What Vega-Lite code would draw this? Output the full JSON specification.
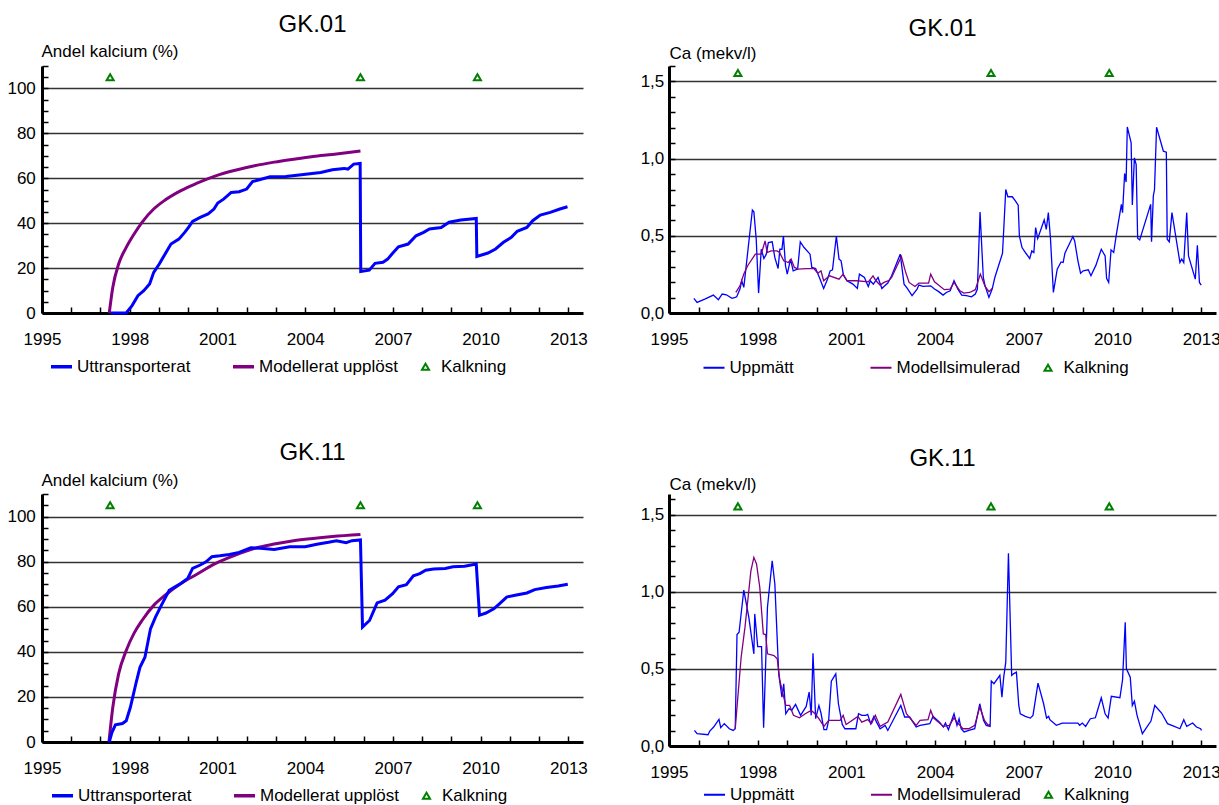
{
  "$schema": "https://vega.github.io/schema/vega-lite/v6.json",
  "background": "white",
  "padding": {"left": 6, "top": 12, "right": 0, "bottom": 0},
  "columns": 2,
  "bounds": "flush",
  "spacing": {"row": 181, "column": 86},
  "resolve": {"scale": {"color": "independent"}, "legend": {"color": "independent"}},
  "config": {
    "view": {"stroke": null},
    "font": "Liberation Sans",
    "title": {"fontSize": 24, "fontWeight": "normal", "color": "#000", "frame": "group", "anchor": "middle", "font": "Liberation Sans"},
    "axis": {"domainColor": "#000", "domainWidth": 3, "tickColor": "#000", "tickWidth": 1.5, "tickSize": -6, "tickCount": 200, "labelFont": "Liberation Sans", "labelFontSize": 17, "labelColor": "#000", "titleFont": "Liberation Sans", "titleFontSize": 17, "titleFontWeight": "normal", "titleColor": "#000", "gridColor": "#333", "gridWidth": 1.5},
    "legend": {"orient": "none", "direction": "horizontal", "columns": 3, "gridAlign": "all", "padding": 0, "labelFont": "Liberation Sans", "labelFontSize": 17, "labelColor": "#000", "labelOffset": 7, "columnPadding": 13, "symbolSize": 441, "symbolType": "stroke", "labelLimit": 400, "title": null}
  },
  "datasets": {
    "kalk": [{"year": 1997.33}, {"year": 2005.89}, {"year": 2009.89}],
    "gk01_utt": [
      {"year":1997.35,"v":0},{"year":1997.88,"v":0},{"year":1998.08,"v":3.3},{"year":1998.28,"v":7.7},{"year":1998.48,"v":9.9},{"year":1998.68,"v":12.9},{"year":1998.82,"v":18.1},{"year":1999.01,"v":21.8},{"year":1999.21,"v":26.3},{"year":1999.41,"v":30.7},{"year":1999.68,"v":32.9},{"year":1999.88,"v":35.9},{"year":2000.01,"v":38.1},{"year":2000.15,"v":40.8},{"year":2000.41,"v":42.6},{"year":2000.68,"v":44.1},{"year":2000.88,"v":46.3},{"year":2001.01,"v":49.0},{"year":2001.21,"v":50.7},{"year":2001.47,"v":53.7},{"year":2001.74,"v":54.0},{"year":2002.0,"v":55.2},{"year":2002.2,"v":58.5},{"year":2002.4,"v":59.2},{"year":2002.8,"v":60.7},{"year":2003.34,"v":60.8},{"year":2003.87,"v":61.6},{"year":2004.53,"v":62.6},{"year":2004.93,"v":63.8},{"year":2005.33,"v":64.4},{"year":2005.46,"v":64.1},{"year":2005.66,"v":66.3},{"year":2005.88,"v":66.6},{"year":2005.9,"v":18.5},{"year":2006.19,"v":19.1},{"year":2006.39,"v":22.1},{"year":2006.66,"v":22.6},{"year":2006.82,"v":24.0},{"year":2006.99,"v":26.6},{"year":2007.19,"v":29.5},{"year":2007.52,"v":30.7},{"year":2007.79,"v":34.4},{"year":2008.05,"v":35.9},{"year":2008.25,"v":37.4},{"year":2008.65,"v":38.1},{"year":2008.92,"v":40.4},{"year":2009.32,"v":41.4},{"year":2009.85,"v":42.1},{"year":2009.87,"v":25.2},{"year":2010.25,"v":26.7},{"year":2010.51,"v":28.5},{"year":2010.78,"v":31.5},{"year":2011.05,"v":33.7},{"year":2011.25,"v":36.4},{"year":2011.58,"v":38.1},{"year":2011.78,"v":41.1},{"year":2012.04,"v":43.6},{"year":2012.38,"v":44.8},{"year":2012.71,"v":46.3},{"year":2012.97,"v":47.3}
    ],
    "gk01_mod": [
      {"year":1997.3,"v":0},{"year":1997.42,"v":11.4},{"year":1997.62,"v":21.8},{"year":1997.88,"v":29.2},{"year":1998.15,"v":35.2},{"year":1998.42,"v":40.4},{"year":1998.82,"v":46.3},{"year":1999.21,"v":50.3},{"year":1999.75,"v":54.5},{"year":2000.28,"v":57.7},{"year":2000.94,"v":61.1},{"year":2001.61,"v":63.6},{"year":2002.27,"v":65.6},{"year":2002.94,"v":67.2},{"year":2003.6,"v":68.5},{"year":2004.27,"v":69.7},{"year":2004.93,"v":70.6},{"year":2005.89,"v":72.1}
    ],
    "gk11_utt": [
      {"year":1997.3,"v":0},{"year":1997.39,"v":4.2},{"year":1997.51,"v":7.6},{"year":1997.75,"v":8.2},{"year":1997.88,"v":9.4},{"year":1998.02,"v":15.3},{"year":1998.22,"v":26.4},{"year":1998.35,"v":33.1},{"year":1998.52,"v":37.6},{"year":1998.71,"v":50.2},{"year":1998.88,"v":55.4},{"year":1999.08,"v":60.6},{"year":1999.35,"v":67.3},{"year":1999.55,"v":68.8},{"year":1999.75,"v":70.3},{"year":1999.98,"v":72.5},{"year":2000.15,"v":77.0},{"year":2000.41,"v":78.5},{"year":2000.61,"v":79.9},{"year":2000.81,"v":82.2},{"year":2001.08,"v":82.6},{"year":2001.41,"v":83.2},{"year":2001.74,"v":84.1},{"year":2002.14,"v":86.2},{"year":2002.47,"v":85.9},{"year":2002.94,"v":85.4},{"year":2003.47,"v":86.6},{"year":2004.0,"v":86.6},{"year":2004.4,"v":87.7},{"year":2004.8,"v":88.6},{"year":2005.07,"v":89.3},{"year":2005.4,"v":88.4},{"year":2005.6,"v":89.3},{"year":2005.89,"v":89.6},{"year":2005.96,"v":51.0},{"year":2006.2,"v":53.9},{"year":2006.46,"v":61.7},{"year":2006.73,"v":62.9},{"year":2006.99,"v":65.8},{"year":2007.19,"v":68.8},{"year":2007.46,"v":69.8},{"year":2007.7,"v":73.7},{"year":2007.92,"v":74.7},{"year":2008.12,"v":76.2},{"year":2008.39,"v":76.7},{"year":2008.79,"v":77.0},{"year":2009.05,"v":77.7},{"year":2009.45,"v":78.0},{"year":2009.85,"v":78.9},{"year":2009.96,"v":56.2},{"year":2010.18,"v":57.2},{"year":2010.45,"v":59.1},{"year":2010.65,"v":61.4},{"year":2010.89,"v":64.3},{"year":2011.18,"v":65.1},{"year":2011.58,"v":66.1},{"year":2011.85,"v":67.6},{"year":2012.25,"v":68.5},{"year":2012.65,"v":69.2},{"year":2012.98,"v":70.0}
    ],
    "gk11_mod": [
      {"year":1997.29,"v":0},{"year":1997.42,"v":15.3},{"year":1997.62,"v":30.2},{"year":1997.88,"v":40.6},{"year":1998.15,"v":48.3},{"year":1998.42,"v":53.9},{"year":1998.82,"v":60.6},{"year":1999.21,"v":65.1},{"year":1999.75,"v":70.3},{"year":2000.28,"v":74.3},{"year":2000.94,"v":79.2},{"year":2001.61,"v":82.9},{"year":2002.27,"v":85.9},{"year":2002.94,"v":87.8},{"year":2003.6,"v":89.3},{"year":2004.27,"v":90.3},{"year":2004.93,"v":91.1},{"year":2005.89,"v":92.0}
    ],
    "gk01_upp": [
      {"year":1995.84,"v":0.095},{"year":1995.95,"v":0.069},{"year":1996.21,"v":0.09},{"year":1996.5,"v":0.116},{"year":1996.67,"v":0.086},{"year":1996.8,"v":0.123},{"year":1996.94,"v":0.118},{"year":1997.13,"v":0.095},{"year":1997.24,"v":0.101},{"year":1997.29,"v":0.105},{"year":1997.4,"v":0.155},{"year":1997.46,"v":0.209},{"year":1997.53,"v":0.166},{"year":1997.82,"v":0.667},{"year":1997.87,"v":0.656},{"year":1997.95,"v":0.478},{"year":1998.03,"v":0.129},{"year":1998.12,"v":0.413},{"year":1998.21,"v":0.353},{"year":1998.29,"v":0.381},{"year":1998.36,"v":0.456},{"year":1998.49,"v":0.461},{"year":1998.58,"v":0.359},{"year":1998.69,"v":0.288},{"year":1998.75,"v":0.413},{"year":1998.82,"v":0.413},{"year":1998.87,"v":0.499},{"year":1998.94,"v":0.306},{"year":1999.0,"v":0.252},{"year":1999.11,"v":0.349},{"year":1999.2,"v":0.273},{"year":1999.35,"v":0.284},{"year":1999.44,"v":0.461},{"year":1999.57,"v":0.424},{"year":1999.77,"v":0.381},{"year":1999.83,"v":0.295},{"year":1999.96,"v":0.288},{"year":2000.1,"v":0.224},{"year":2000.23,"v":0.159},{"year":2000.36,"v":0.219},{"year":2000.45,"v":0.273},{"year":2000.53,"v":0.28},{"year":2000.66,"v":0.499},{"year":2000.75,"v":0.349},{"year":2000.82,"v":0.338},{"year":2000.9,"v":0.245},{"year":2001.02,"v":0.209},{"year":2001.22,"v":0.187},{"year":2001.37,"v":0.159},{"year":2001.44,"v":0.252},{"year":2001.61,"v":0.23},{"year":2001.68,"v":0.198},{"year":2001.74,"v":0.172},{"year":2001.81,"v":0.209},{"year":2001.91,"v":0.187},{"year":2002.07,"v":0.23},{"year":2002.2,"v":0.159},{"year":2002.27,"v":0.172},{"year":2002.4,"v":0.194},{"year":2002.53,"v":0.241},{"year":2002.82,"v":0.381},{"year":2002.95,"v":0.187},{"year":2003.06,"v":0.159},{"year":2003.22,"v":0.112},{"year":2003.39,"v":0.155},{"year":2003.45,"v":0.181},{"year":2003.59,"v":0.172},{"year":2003.85,"v":0.176},{"year":2003.98,"v":0.155},{"year":2004.11,"v":0.14},{"year":2004.27,"v":0.116},{"year":2004.38,"v":0.133},{"year":2004.51,"v":0.144},{"year":2004.64,"v":0.209},{"year":2004.77,"v":0.155},{"year":2004.9,"v":0.116},{"year":2005.06,"v":0.112},{"year":2005.23,"v":0.105},{"year":2005.36,"v":0.123},{"year":2005.43,"v":0.155},{"year":2005.52,"v":0.654},{"year":2005.63,"v":0.23},{"year":2005.69,"v":0.176},{"year":2005.82,"v":0.101},{"year":2005.93,"v":0.155},{"year":2006.02,"v":0.23},{"year":2006.28,"v":0.387},{"year":2006.39,"v":0.8},{"year":2006.46,"v":0.753},{"year":2006.61,"v":0.753},{"year":2006.72,"v":0.725},{"year":2006.81,"v":0.699},{"year":2006.85,"v":0.499},{"year":2006.94,"v":0.424},{"year":2007.07,"v":0.387},{"year":2007.2,"v":0.353},{"year":2007.27,"v":0.402},{"year":2007.34,"v":0.392},{"year":2007.4,"v":0.553},{"year":2007.47,"v":0.482},{"year":2007.58,"v":0.542},{"year":2007.69,"v":0.603},{"year":2007.76,"v":0.542},{"year":2007.83,"v":0.65},{"year":2007.9,"v":0.488},{"year":2008.0,"v":0.133},{"year":2008.13,"v":0.284},{"year":2008.26,"v":0.331},{"year":2008.33,"v":0.327},{"year":2008.39,"v":0.387},{"year":2008.66,"v":0.495},{"year":2008.72,"v":0.467},{"year":2008.83,"v":0.338},{"year":2008.92,"v":0.258},{"year":2009.01,"v":0.273},{"year":2009.18,"v":0.28},{"year":2009.27,"v":0.241},{"year":2009.44,"v":0.31},{"year":2009.62,"v":0.413},{"year":2009.75,"v":0.37},{"year":2009.8,"v":0.224},{"year":2009.87,"v":0.198},{"year":2009.95,"v":0.409},{"year":2010.04,"v":0.392},{"year":2010.14,"v":0.521},{"year":2010.3,"v":0.704},{"year":2010.34,"v":0.65},{"year":2010.41,"v":0.904},{"year":2010.46,"v":0.848},{"year":2010.5,"v":1.205},{"year":2010.63,"v":1.102},{"year":2010.67,"v":0.699},{"year":2010.74,"v":1.005},{"year":2010.8,"v":0.962},{"year":2010.85,"v":0.484},{"year":2010.92,"v":0.473},{"year":2011.29,"v":0.704},{"year":2011.32,"v":0.461},{"year":2011.38,"v":0.757},{"year":2011.42,"v":0.8},{"year":2011.49,"v":1.203},{"year":2011.72,"v":1.048},{"year":2011.82,"v":1.042},{"year":2011.85,"v":0.478},{"year":2011.92,"v":0.461},{"year":2012.01,"v":0.65},{"year":2012.28,"v":0.327},{"year":2012.34,"v":0.349},{"year":2012.41,"v":0.327},{"year":2012.51,"v":0.65},{"year":2012.57,"v":0.37},{"year":2012.8,"v":0.219},{"year":2012.87,"v":0.439},{"year":2012.94,"v":0.198},{"year":2013.0,"v":0.181}
    ],
    "gk01_sim": [
      {"year":1997.26,"v":0.133},{"year":1997.4,"v":0.176},{"year":1997.53,"v":0.252},{"year":1997.66,"v":0.306},{"year":1997.92,"v":0.381},{"year":1998.12,"v":0.381},{"year":1998.25,"v":0.467},{"year":1998.32,"v":0.392},{"year":1998.45,"v":0.402},{"year":1998.65,"v":0.402},{"year":1998.74,"v":0.392},{"year":1998.88,"v":0.338},{"year":1999.04,"v":0.327},{"year":1999.13,"v":0.349},{"year":1999.24,"v":0.295},{"year":1999.37,"v":0.284},{"year":1999.64,"v":0.288},{"year":1999.9,"v":0.288},{"year":2000.03,"v":0.258},{"year":2000.14,"v":0.273},{"year":2000.23,"v":0.209},{"year":2000.43,"v":0.241},{"year":2000.75,"v":0.219},{"year":2000.89,"v":0.252},{"year":2001.02,"v":0.209},{"year":2001.35,"v":0.209},{"year":2001.74,"v":0.202},{"year":2001.9,"v":0.241},{"year":2002.0,"v":0.209},{"year":2002.14,"v":0.181},{"year":2002.27,"v":0.198},{"year":2002.43,"v":0.209},{"year":2002.53,"v":0.23},{"year":2002.86,"v":0.366},{"year":2002.99,"v":0.273},{"year":2003.12,"v":0.198},{"year":2003.32,"v":0.172},{"year":2003.45,"v":0.194},{"year":2003.78,"v":0.194},{"year":2003.85,"v":0.252},{"year":2003.98,"v":0.202},{"year":2004.31,"v":0.151},{"year":2004.51,"v":0.155},{"year":2004.64,"v":0.198},{"year":2004.84,"v":0.144},{"year":2004.97,"v":0.129},{"year":2005.17,"v":0.133},{"year":2005.36,"v":0.151},{"year":2005.53,"v":0.252},{"year":2005.69,"v":0.172},{"year":2005.82,"v":0.138},{"year":2005.93,"v":0.159}
    ],
    "gk11_upp": [
      {"year":1995.86,"v":0.101},{"year":1995.95,"v":0.08},{"year":1996.32,"v":0.073},{"year":1996.38,"v":0.097},{"year":1996.51,"v":0.123},{"year":1996.69,"v":0.173},{"year":1996.75,"v":0.119},{"year":1996.87,"v":0.145},{"year":1997.04,"v":0.112},{"year":1997.17,"v":0.101},{"year":1997.24,"v":0.112},{"year":1997.3,"v":0.723},{"year":1997.37,"v":0.738},{"year":1997.53,"v":1.012},{"year":1997.7,"v":0.835},{"year":1997.87,"v":0.598},{"year":1997.9,"v":0.857},{"year":1998.0,"v":0.645},{"year":1998.13,"v":0.645},{"year":1998.2,"v":0.119},{"year":1998.33,"v":0.9},{"year":1998.49,"v":1.202},{"year":1998.58,"v":1.051},{"year":1998.71,"v":0.468},{"year":1998.82,"v":0.317},{"year":1998.88,"v":0.404},{"year":1998.95,"v":0.209},{"year":1999.06,"v":0.242},{"year":1999.15,"v":0.231},{"year":1999.28,"v":0.27},{"year":1999.45,"v":0.199},{"year":1999.64,"v":0.257},{"year":1999.74,"v":0.35},{"year":1999.81,"v":0.199},{"year":1999.87,"v":0.602},{"year":1999.96,"v":0.177},{"year":2000.07,"v":0.263},{"year":2000.14,"v":0.214},{"year":2000.24,"v":0.106},{"year":2000.33,"v":0.106},{"year":2000.4,"v":0.166},{"year":2000.49,"v":0.421},{"year":2000.64,"v":0.468},{"year":2000.73,"v":0.274},{"year":2000.86,"v":0.14},{"year":2000.95,"v":0.112},{"year":2001.32,"v":0.112},{"year":2001.41,"v":0.209},{"year":2001.52,"v":0.199},{"year":2001.65,"v":0.199},{"year":2001.72,"v":0.205},{"year":2001.82,"v":0.145},{"year":2001.93,"v":0.192},{"year":2002.02,"v":0.155},{"year":2002.14,"v":0.112},{"year":2002.31,"v":0.134},{"year":2002.4,"v":0.101},{"year":2002.84,"v":0.263},{"year":2002.97,"v":0.188},{"year":2003.14,"v":0.188},{"year":2003.36,"v":0.123},{"year":2003.49,"v":0.134},{"year":2003.82,"v":0.145},{"year":2003.93,"v":0.192},{"year":2004.15,"v":0.155},{"year":2004.28,"v":0.123},{"year":2004.35,"v":0.149},{"year":2004.45,"v":0.106},{"year":2004.64,"v":0.209},{"year":2004.74,"v":0.134},{"year":2004.81,"v":0.177},{"year":2004.88,"v":0.112},{"year":2004.98,"v":0.091},{"year":2005.14,"v":0.101},{"year":2005.34,"v":0.112},{"year":2005.51,"v":0.274},{"year":2005.64,"v":0.166},{"year":2005.73,"v":0.134},{"year":2005.86,"v":0.127},{"year":2005.9,"v":0.421},{"year":2005.99,"v":0.404},{"year":2006.19,"v":0.458},{"year":2006.26,"v":0.317},{"year":2006.32,"v":0.447},{"year":2006.39,"v":0.544},{"year":2006.48,"v":1.25},{"year":2006.59,"v":0.458},{"year":2006.65,"v":0.468},{"year":2006.75,"v":0.479},{"year":2006.83,"v":0.263},{"year":2006.88,"v":0.209},{"year":2007.05,"v":0.192},{"year":2007.22,"v":0.181},{"year":2007.31,"v":0.199},{"year":2007.48,"v":0.408},{"year":2007.67,"v":0.274},{"year":2007.77,"v":0.181},{"year":2007.84,"v":0.192},{"year":2007.88,"v":0.171},{"year":2008.1,"v":0.134},{"year":2008.3,"v":0.149},{"year":2008.83,"v":0.149},{"year":2008.89,"v":0.134},{"year":2008.98,"v":0.149},{"year":2009.09,"v":0.127},{"year":2009.25,"v":0.177},{"year":2009.42,"v":0.183},{"year":2009.62,"v":0.313},{"year":2009.75,"v":0.209},{"year":2009.85,"v":0.181},{"year":2009.96,"v":0.322},{"year":2010.25,"v":0.313},{"year":2010.34,"v":0.43},{"year":2010.43,"v":0.803},{"year":2010.47,"v":0.501},{"year":2010.6,"v":0.447},{"year":2010.67,"v":0.263},{"year":2010.74,"v":0.291},{"year":2010.83,"v":0.199},{"year":2011.01,"v":0.08},{"year":2011.3,"v":0.162},{"year":2011.43,"v":0.263},{"year":2011.66,"v":0.214},{"year":2011.86,"v":0.145},{"year":2012.09,"v":0.127},{"year":2012.28,"v":0.112},{"year":2012.41,"v":0.171},{"year":2012.51,"v":0.127},{"year":2012.71,"v":0.149},{"year":2012.84,"v":0.123},{"year":2012.98,"v":0.112},{"year":2013.01,"v":0.101}
    ],
    "gk11_sim": [
      {"year":1997.24,"v":0.112},{"year":1997.44,"v":0.576},{"year":1997.57,"v":0.771},{"year":1997.77,"v":1.137},{"year":1997.87,"v":1.224},{"year":1997.96,"v":1.181},{"year":1998.07,"v":1.03},{"year":1998.19,"v":0.727},{"year":1998.27,"v":0.723},{"year":1998.33,"v":0.598},{"year":1998.55,"v":0.587},{"year":1998.66,"v":0.566},{"year":1998.75,"v":0.425},{"year":1998.88,"v":0.317},{"year":1998.95,"v":0.263},{"year":1999.08,"v":0.263},{"year":1999.21,"v":0.199},{"year":1999.41,"v":0.183},{"year":1999.61,"v":0.209},{"year":1999.81,"v":0.231},{"year":1999.94,"v":0.209},{"year":2000.07,"v":0.177},{"year":2000.24,"v":0.127},{"year":2000.4,"v":0.166},{"year":2000.79,"v":0.166},{"year":2000.89,"v":0.199},{"year":2000.99,"v":0.14},{"year":2001.39,"v":0.192},{"year":2001.52,"v":0.155},{"year":2001.72,"v":0.171},{"year":2001.85,"v":0.145},{"year":2001.98,"v":0.199},{"year":2002.14,"v":0.127},{"year":2002.4,"v":0.155},{"year":2002.84,"v":0.335},{"year":2003.03,"v":0.209},{"year":2003.36,"v":0.134},{"year":2003.49,"v":0.166},{"year":2003.76,"v":0.171},{"year":2003.85,"v":0.231},{"year":2003.95,"v":0.181},{"year":2004.28,"v":0.127},{"year":2004.48,"v":0.134},{"year":2004.64,"v":0.183},{"year":2004.74,"v":0.155},{"year":2004.94,"v":0.112},{"year":2005.14,"v":0.112},{"year":2005.34,"v":0.134},{"year":2005.51,"v":0.253},{"year":2005.67,"v":0.166},{"year":2005.8,"v":0.134},{"year":2005.86,"v":0.14}
    ]
  },
  "concat": [
    {
      "width": 541, "height": 247,
      "title": {"text": "GK.01", "offset": 6},
      "layer": [
        {"data": {"name": "gk01_mod"}, "mark": {"type": "line", "strokeWidth": 3, "interpolate": "monotone"},
         "encoding": {
           "x": {"field": "year", "type": "quantitative", "scale": {"domain": [1995, 2013.5], "nice": false, "zero": false},
                 "axis": {"values": [1995,1996,1997,1998,1999,2000,2001,2002,2003,2004,2005,2006,2007,2008,2009,2010,2011,2012,2013], "tickCount": 200, "labelExpr": "(datum.value - 1995) % 3 === 0 ? '' + datum.value : ''", "labelFlush": false, "labelOverlap": false, "grid": false, "title": null, "labelPadding": 24}},
           "y": {"field": "v", "type": "quantitative", "scale": {"domain": [0, 110], "nice": false},
                 "axis": {"values": [0,5,10,15,20,25,30,35,40,45,50,55,60,65,70,75,80,85,90,95,100,105,110], "tickCount": 200, "labelExpr": "datum.value % 20 === 0 && datum.value <= 100 ? '' + datum.value : ''", "labelOverlap": false, "grid": true, "gridOpacity": {"condition": {"test": "datum.value % 20 === 0 && datum.value > 0 && datum.value <= 100", "value": 1}, "value": 0}, "title": "Andel kalcium (%)", "titleAngle": 0, "titleAlign": "left", "titleBaseline": "alphabetic", "titleX": -1, "titleY": -9.5, "labelPadding": 12.7}},
           "color": {"datum": "Modellerat upplöst", "scale": {"domain": ["Uttransporterat", "Modellerat upplöst", "Kalkning"], "range": ["#0000ff", "#800080", "#008000"]},
                     "legend": {"legendX": 11, "legendY": 292, "columnPadding": 10, "encode": {"symbols": {"update": {
                        "shape": {"signal": "datum.value === 'Kalkning' ? 'triangle-up' : 'stroke'"},
                        "size": {"signal": "datum.value === 'Kalkning' ? 50 : 441"},
                        "strokeWidth": {"signal": "datum.value === 'Kalkning' ? 2 : 3.5"},
                        "fill": {"signal": "datum.value === 'Kalkning' ? 'white' : 'transparent'"},
                        "stroke": {"signal": "datum.value === 'Kalkning' ? '#008000' : (datum.value === 'Uttransporterat' ? '#0000ff' : '#800080')"},
                        "opacity": {"value": 1}}}}}}
         }},
        {"data": {"name": "gk01_utt"}, "mark": {"type": "line", "strokeWidth": 3},
         "encoding": {"x": {"field": "year", "type": "quantitative"}, "y": {"field": "v", "type": "quantitative"}, "color": {"datum": "Uttransporterat"}}},
        {"data": {"name": "kalk"}, "mark": {"type": "point", "shape": "triangle-up", "size": 50, "filled": true, "fill": "white", "stroke": "#008000", "strokeWidth": 2, "opacity": 1},
         "encoding": {"x": {"field": "year", "type": "quantitative"}, "y": {"datum": 105}}}
      ]
    },
    {
      "width": 547, "height": 247,
      "title": {"text": "GK.01", "offset": 3},
      "layer": [
        {"data": {"name": "gk01_upp"}, "mark": {"type": "line", "strokeWidth": 1.3},
         "encoding": {
           "x": {"field": "year", "type": "quantitative", "scale": {"domain": [1995, 2013.5], "nice": false, "zero": false},
                 "axis": {"values": [1995,1996,1997,1998,1999,2000,2001,2002,2003,2004,2005,2006,2007,2008,2009,2010,2011,2012,2013], "tickCount": 200, "labelExpr": "(datum.value - 1995) % 3 === 0 ? '' + datum.value : ''", "labelFlush": false, "labelOverlap": false, "grid": false, "title": null, "labelPadding": 24}},
           "y": {"field": "v", "type": "quantitative", "scale": {"domain": [0, 1.6], "nice": false},
                 "axis": {"values": [0,0.1,0.2,0.3,0.4,0.5,0.6,0.7,0.8,0.9,1.0,1.1,1.2,1.3,1.4,1.5,1.6], "tickCount": 200, "labelExpr": "round(datum.value * 10) % 5 === 0 && datum.value < 1.55 ? replace(format(datum.value, '.1f'), '.', ',') : ''", "labelOverlap": false, "grid": true, "gridOpacity": {"condition": {"test": "round(datum.value * 10) % 5 === 0 && datum.value > 0 && datum.value < 1.55", "value": 1}, "value": 0}, "title": "Ca (mekv/l)", "titleAngle": 0, "titleAlign": "left", "titleBaseline": "alphabetic", "titleX": 0, "titleY": -8, "labelPadding": 11.2}},
           "color": {"datum": "Uppmätt", "scale": {"domain": ["Uppmätt", "Modellsimulerad", "Kalkning"], "range": ["#0000ff", "#800080", "#008000"]},
                     "legend": {"legendX": 36.5, "legendY": 293, "encode": {"symbols": {"update": {
                        "shape": {"signal": "datum.value === 'Kalkning' ? 'triangle-up' : 'stroke'"},
                        "size": {"signal": "datum.value === 'Kalkning' ? 50 : 441"},
                        "strokeWidth": {"signal": "datum.value === 'Kalkning' ? 2 : 2"},
                        "fill": {"signal": "datum.value === 'Kalkning' ? 'white' : 'transparent'"},
                        "stroke": {"signal": "datum.value === 'Kalkning' ? '#008000' : (datum.value === 'Uppmätt' ? '#0000ff' : '#800080')"},
                        "opacity": {"value": 1}}}}}}
         }},
        {"data": {"name": "gk01_sim"}, "mark": {"type": "line", "strokeWidth": 1.3},
         "encoding": {"x": {"field": "year", "type": "quantitative"}, "y": {"field": "v", "type": "quantitative"}, "color": {"datum": "Modellsimulerad"}}},
        {"data": {"name": "kalk"}, "mark": {"type": "point", "shape": "triangle-up", "size": 50, "filled": true, "fill": "white", "stroke": "#008000", "strokeWidth": 2, "opacity": 1},
         "encoding": {"x": {"field": "year", "type": "quantitative"}, "y": {"datum": 1.555}}}
      ]
    },
    {
      "width": 541, "height": 248,
      "title": {"text": "GK.11", "offset": 6.8},
      "layer": [
        {"data": {"name": "gk11_mod"}, "mark": {"type": "line", "strokeWidth": 3, "interpolate": "monotone"},
         "encoding": {
           "x": {"field": "year", "type": "quantitative", "scale": {"domain": [1995, 2013.5], "nice": false, "zero": false},
                 "axis": {"values": [1995,1996,1997,1998,1999,2000,2001,2002,2003,2004,2005,2006,2007,2008,2009,2010,2011,2012,2013], "tickCount": 200, "labelExpr": "(datum.value - 1995) % 3 === 0 ? '' + datum.value : ''", "labelFlush": false, "labelOverlap": false, "grid": false, "title": null, "labelPadding": 24}},
           "y": {"field": "v", "type": "quantitative", "scale": {"domain": [0, 110], "nice": false},
                 "axis": {"values": [0,5,10,15,20,25,30,35,40,45,50,55,60,65,70,75,80,85,90,95,100,105,110], "tickCount": 200, "labelExpr": "datum.value % 20 === 0 && datum.value <= 100 ? '' + datum.value : ''", "labelOverlap": false, "grid": true, "gridOpacity": {"condition": {"test": "datum.value % 20 === 0 && datum.value > 0 && datum.value <= 100", "value": 1}, "value": 0}, "title": "Andel kalcium (%)", "titleAngle": 0, "titleAlign": "left", "titleBaseline": "alphabetic", "titleX": -1, "titleY": -8.5, "labelPadding": 12.7}},
           "color": {"datum": "Modellerat upplöst", "scale": {"domain": ["Uttransporterat", "Modellerat upplöst", "Kalkning"], "range": ["#0000ff", "#800080", "#008000"]},
                     "legend": {"legendX": 12, "legendY": 293, "columnPadding": 10, "encode": {"symbols": {"update": {
                        "shape": {"signal": "datum.value === 'Kalkning' ? 'triangle-up' : 'stroke'"},
                        "size": {"signal": "datum.value === 'Kalkning' ? 50 : 441"},
                        "strokeWidth": {"signal": "datum.value === 'Kalkning' ? 2 : 3.5"},
                        "fill": {"signal": "datum.value === 'Kalkning' ? 'white' : 'transparent'"},
                        "stroke": {"signal": "datum.value === 'Kalkning' ? '#008000' : (datum.value === 'Uttransporterat' ? '#0000ff' : '#800080')"},
                        "opacity": {"value": 1}}}}}}
         }},
        {"data": {"name": "gk11_utt"}, "mark": {"type": "line", "strokeWidth": 3},
         "encoding": {"x": {"field": "year", "type": "quantitative"}, "y": {"field": "v", "type": "quantitative"}, "color": {"datum": "Uttransporterat"}}},
        {"data": {"name": "kalk"}, "mark": {"type": "point", "shape": "triangle-up", "size": 50, "filled": true, "fill": "white", "stroke": "#008000", "strokeWidth": 2, "opacity": 1},
         "encoding": {"x": {"field": "year", "type": "quantitative"}, "y": {"datum": 105}}}
      ]
    },
    {
      "width": 547, "height": 252,
      "title": {"text": "GK.11", "offset": 3.6},
      "layer": [
        {"data": {"name": "gk11_upp"}, "mark": {"type": "line", "strokeWidth": 1.3},
         "encoding": {
           "x": {"field": "year", "type": "quantitative", "scale": {"domain": [1995, 2013.5], "nice": false, "zero": false},
                 "axis": {"values": [1995,1996,1997,1998,1999,2000,2001,2002,2003,2004,2005,2006,2007,2008,2009,2010,2011,2012,2013], "tickCount": 200, "labelExpr": "(datum.value - 1995) % 3 === 0 ? '' + datum.value : ''", "labelFlush": false, "labelOverlap": false, "grid": false, "title": null, "labelPadding": 24}},
           "y": {"field": "v", "type": "quantitative", "scale": {"domain": [0, 1.635], "nice": false},
                 "axis": {"values": [0,0.1,0.2,0.3,0.4,0.5,0.6,0.7,0.8,0.9,1.0,1.1,1.2,1.3,1.4,1.5,1.6], "tickCount": 200, "labelExpr": "round(datum.value * 10) % 5 === 0 && datum.value < 1.55 ? replace(format(datum.value, '.1f'), '.', ',') : ''", "labelOverlap": false, "grid": true, "gridOpacity": {"condition": {"test": "round(datum.value * 10) % 5 === 0 && datum.value > 0 && datum.value < 1.55", "value": 1}, "value": 0}, "title": "Ca (mekv/l)", "titleAngle": 0, "titleAlign": "left", "titleBaseline": "alphabetic", "titleX": 0, "titleY": -5, "labelPadding": 11.2}},
           "color": {"datum": "Uppmätt", "scale": {"domain": ["Uppmätt", "Modellsimulerad", "Kalkning"], "range": ["#0000ff", "#800080", "#008000"]},
                     "legend": {"legendX": 37, "legendY": 292, "encode": {"symbols": {"update": {
                        "shape": {"signal": "datum.value === 'Kalkning' ? 'triangle-up' : 'stroke'"},
                        "size": {"signal": "datum.value === 'Kalkning' ? 50 : 441"},
                        "strokeWidth": {"signal": "datum.value === 'Kalkning' ? 2 : 2"},
                        "fill": {"signal": "datum.value === 'Kalkning' ? 'white' : 'transparent'"},
                        "stroke": {"signal": "datum.value === 'Kalkning' ? '#008000' : (datum.value === 'Uppmätt' ? '#0000ff' : '#800080')"},
                        "opacity": {"value": 1}}}}}}
         }},
        {"data": {"name": "gk11_sim"}, "mark": {"type": "line", "strokeWidth": 1.3},
         "encoding": {"x": {"field": "year", "type": "quantitative"}, "y": {"field": "v", "type": "quantitative"}, "color": {"datum": "Modellsimulerad"}}},
        {"data": {"name": "kalk"}, "mark": {"type": "point", "shape": "triangle-up", "size": 50, "filled": true, "fill": "white", "stroke": "#008000", "strokeWidth": 2, "opacity": 1},
         "encoding": {"x": {"field": "year", "type": "quantitative"}, "y": {"datum": 1.555}}}
      ]
    }
  ]
}
